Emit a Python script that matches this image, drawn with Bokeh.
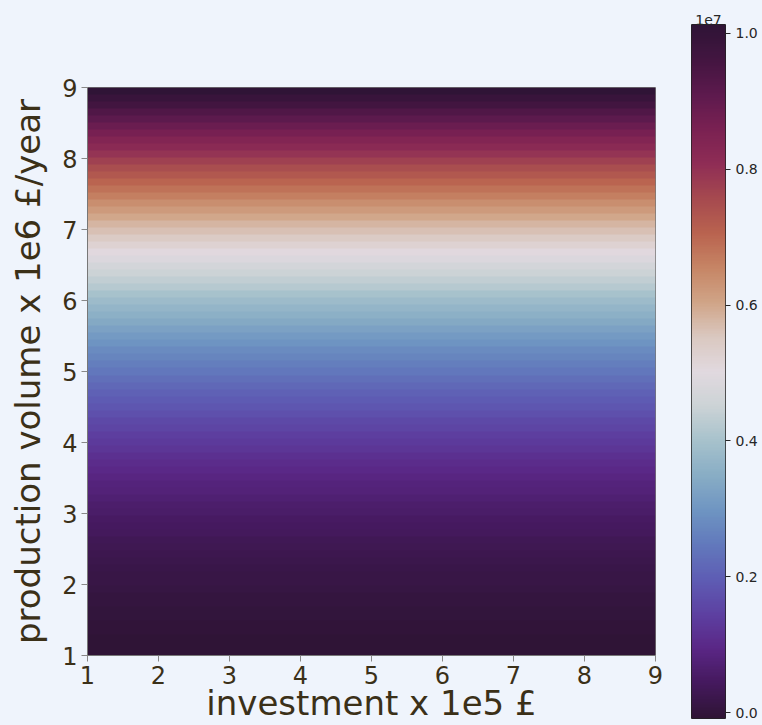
import numpy as np
from bokeh.plotting import figure
from bokeh.models import LinearColorMapper, FixedTicker, CustomJSTickFormatter, Range1d
from bokeh.embed import file_html
from bokeh.resources import INLINE

# ---- data ----
investment = [1, 2, 3, 4, 5, 6, 7, 8, 9]            # x 1e5 GBP
# production volume rows, 1.0 ... 9.0 in steps of 0.1 (x 1e6 GBP/year)
production = [round(1.0 + 0.1 * i, 1) for i in range(81)]
# profit read row by row (in units of 1e4 GBP)
profit_1e4 = [
    -8, -7, -6, -4, -2, 0, 2, 5, 7, 10,
    12, 15, 19, 22, 26, 30, 35, 40, 45, 50,
    56, 62, 69, 76, 83, 90, 98, 106, 114, 123,
    132, 142, 152, 162, 172, 183, 194, 206, 218, 230,
    243, 256, 269, 282, 296, 310, 325, 340, 355, 370,
    386, 402, 419, 436, 453, 470, 488, 506, 524, 543,
    562, 581, 601, 621, 641, 662, 683, 705, 727, 749,
    772, 795, 818, 841, 864, 888, 912, 937, 962, 987,
    1013]
cbar_ticks = [0, 2e6, 4e6, 6e6, 8e6, 1e7]
x_title = "investment x 1e5 £"
y_title = "production volume x 1e6 £/year"

# ---- style ----
BG = "#eff4fc"
TXT = "#3b3018"
FONT = "DejaVu Sans"
anchors = ["#2f1436", "#45195e", "#5a2786", "#5d41a2", "#5e5db4", "#6279bc",
           "#6f95c2", "#88adc5", "#a7c2cc", "#ccd3d6", "#e1d9df", "#dac8c0",
           "#d0a487", "#c68565", "#b9634f", "#a64a4f", "#8f2d55", "#7a2152",
           "#5d1a4e", "#431541", "#2f1436"]


def hex2rgb(h):
    return np.array([int(h[i:i + 2], 16) for i in (1, 3, 5)], dtype=float)


arr = np.array([hex2rgb(h) for h in anchors])
pos = np.linspace(0, 1, len(anchors))
t = np.linspace(0, 1, 256)
palette = ["#%02x%02x%02x" % tuple(int(round(np.interp(tt, pos, arr[:, c]))) for c in range(3)) for tt in t]

profit = np.array(profit_1e4, dtype=float) * 1e4
lo, hi = -8.8e4, profit.max()
mapper = LinearColorMapper(palette=palette, low=lo, high=hi)

z = profit[:, None] * np.ones((1, len(investment)))

# ---- main heatmap ----
p = figure(width=663, height=725, x_range=Range1d(min(investment), max(investment)),
           y_range=Range1d(min(production), max(production)),
           output_backend="svg", toolbar_location=None,
           min_border_left=87, min_border_top=87, min_border_right=8, min_border_bottom=70,
           background_fill_color=BG, border_fill_color=BG)
p.image(image=[z], x=min(investment), y=min(production),
        dw=max(investment) - min(investment), dh=max(production) - min(production),
        color_mapper=mapper)
p.grid.visible = False
p.outline_line_color = "#777777"
for ax in (p.xaxis, p.yaxis):
    ax.ticker = FixedTicker(ticks=investment)
    ax.major_label_text_font = FONT
    ax.major_label_text_font_size = "24px"
    ax.major_label_text_color = TXT
    ax.axis_label_text_font = FONT
    ax.axis_label_text_font_size = "34px"
    ax.axis_label_text_font_style = "normal"
    ax.axis_label_text_color = TXT
    ax.major_tick_out = 6
    ax.major_tick_in = 0
    ax.minor_tick_line_color = None
    ax.major_tick_line_color = "#888888"
    ax.axis_line_color = "#777777"
p.xaxis.axis_label = x_title
p.yaxis.axis_label = y_title
p.xaxis.major_label_standoff = 4
p.xaxis.axis_label_standoff = -4
p.yaxis.major_label_standoff = 4
p.yaxis.axis_label_standoff = 11

# ---- colour bar ----
grad = np.linspace(lo, hi, 256).reshape(-1, 1)
cb = figure(width=99, height=725, x_range=Range1d(0, 1), y_range=Range1d(lo, hi),
            output_backend="svg", toolbar_location=None,
            x_axis_location=None, y_axis_location="right",
            min_border_left=28, min_border_right=37, min_border_top=24, min_border_bottom=7,
            background_fill_color=BG, border_fill_color=BG)
cb.image(image=[grad], x=0, y=lo, dw=1, dh=hi - lo, color_mapper=mapper)
cb.grid.visible = False
cb.outline_line_color = "#222222"
cb.title.text = "1e7"
cb.title.align = "center"
cb.title.text_font = FONT
cb.title.text_font_size = "14px"
cb.title.text_font_style = "normal"
cb.title.text_color = "#262626"
cb.title.standoff = 0
ya = cb.yaxis[0]
ya.ticker = FixedTicker(ticks=cbar_ticks)
ya.formatter = CustomJSTickFormatter(code="return (tick/1e7).toFixed(1);")
ya.major_label_text_font = FONT
ya.major_label_text_font_size = "14px"
ya.major_label_text_color = "#262626"
ya.major_tick_out = 5
ya.major_tick_in = 0
ya.minor_tick_line_color = None
ya.major_tick_line_color = "#262626"
ya.axis_line_color = None
ya.major_label_standoff = 5

html = file_html([p, cb], INLINE)
css = ("<style>html,body{background:%s;margin:0;padding:0;overflow:hidden;}"
       "body{display:flex;flex-direction:row;align-items:flex-start;}</style></head>" % BG)
html = html.replace("</head>", css, 1)
open("out.html", "w").write(html)
